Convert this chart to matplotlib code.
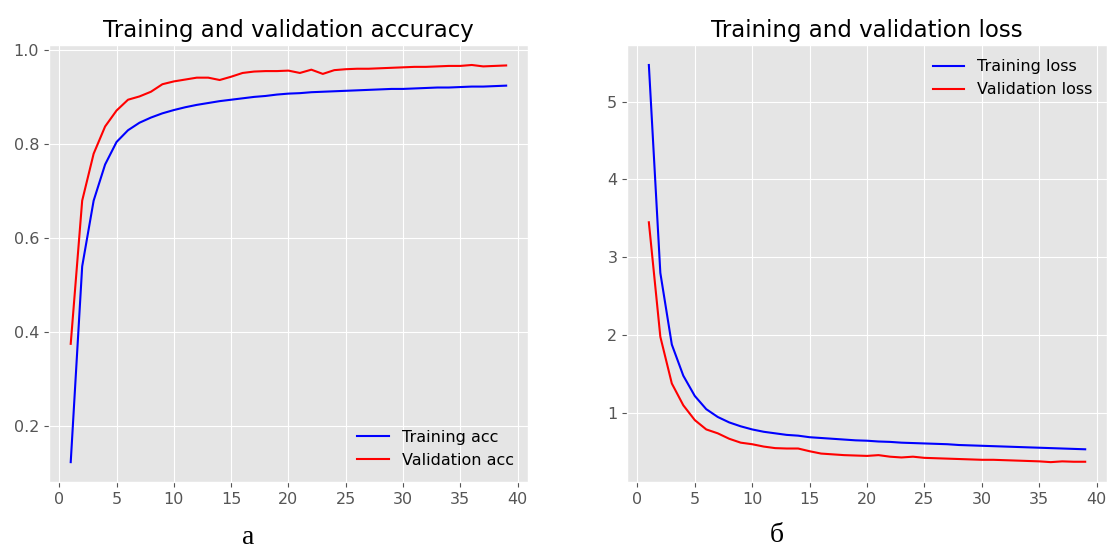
import matplotlib
matplotlib.use("Agg")
import matplotlib.pyplot as plt

plt.style.use("ggplot")

# epochs
epochs = list(range(1, 40))

# accuracy
train_acc = [0.123, 0.54, 0.68, 0.757, 0.805, 0.830, 0.846, 0.857, 0.866, 0.873,
             0.879, 0.884, 0.888, 0.892, 0.895, 0.898, 0.901, 0.903, 0.906, 0.908,
             0.909, 0.911, 0.912, 0.913, 0.914, 0.915, 0.916, 0.917, 0.918, 0.918,
             0.919, 0.920, 0.921, 0.921, 0.922, 0.923, 0.923, 0.924, 0.925]
val_acc = [0.375, 0.68, 0.78, 0.838, 0.872, 0.895, 0.902, 0.912, 0.928, 0.934,
           0.938, 0.942, 0.942, 0.937, 0.944, 0.952, 0.955, 0.956, 0.956, 0.957,
           0.952, 0.959, 0.950, 0.958, 0.960, 0.961, 0.961, 0.962, 0.963, 0.964,
           0.965, 0.965, 0.966, 0.967, 0.967, 0.969, 0.966, 0.967, 0.968]

# loss
train_loss = [5.47, 2.80, 1.88, 1.48, 1.22, 1.05, 0.95, 0.88, 0.83, 0.79,
              0.76, 0.74, 0.72, 0.71, 0.69, 0.68, 0.67, 0.66, 0.65, 0.645,
              0.635, 0.63, 0.62, 0.615, 0.61, 0.605, 0.60, 0.59, 0.585, 0.58,
              0.575, 0.57, 0.565, 0.56, 0.555, 0.55, 0.545, 0.54, 0.535]
val_loss = [3.45, 1.98, 1.38, 1.10, 0.91, 0.79, 0.74, 0.67, 0.62, 0.60,
            0.57, 0.55, 0.545, 0.545, 0.51, 0.48, 0.47, 0.46, 0.455, 0.45,
            0.46, 0.44, 0.43, 0.44, 0.425, 0.42, 0.415, 0.41, 0.405, 0.40,
            0.40, 0.395, 0.39, 0.385, 0.38, 0.37, 0.38, 0.375, 0.375]

fig = plt.figure(figsize=(11.1, 5.53), dpi=100)

# левый график - точность
ax1 = fig.add_axes([0.0441, 0.1284, 0.4315, 0.790])
ax1.plot(epochs, train_acc, "b", label="Training acc")
ax1.plot(epochs, val_acc, "r", label="Validation acc")
ax1.set_title("Training and validation accuracy", fontsize=16.5)
ax1.legend(loc="lower right", fontsize=11.5, frameon=False)

# правый график - потери
ax2 = fig.add_axes([0.5649, 0.1284, 0.4324, 0.790])
ax2.plot(epochs, train_loss, "b", label="Training loss")
ax2.plot(epochs, val_loss, "r", label="Validation loss")
ax2.set_title("Training and validation loss", fontsize=16.5)
ax2.legend(loc="upper right", fontsize=11.5, frameon=False)

for ax in (ax1, ax2):
    ax.set_xticks(range(0, 41, 5))
    ax.tick_params(labelsize=11.5)

# подписи под графиками
fig.text(248 / 1110, 1 - 537 / 553, "а", family="Liberation Serif",
         fontsize=20, ha="center", va="center")
fig.text(777 / 1110, 1 - 535 / 553, "б", family="Liberation Serif",
         fontsize=20, ha="center", va="center")

fig.savefig("out.png", dpi=100, facecolor="white")
